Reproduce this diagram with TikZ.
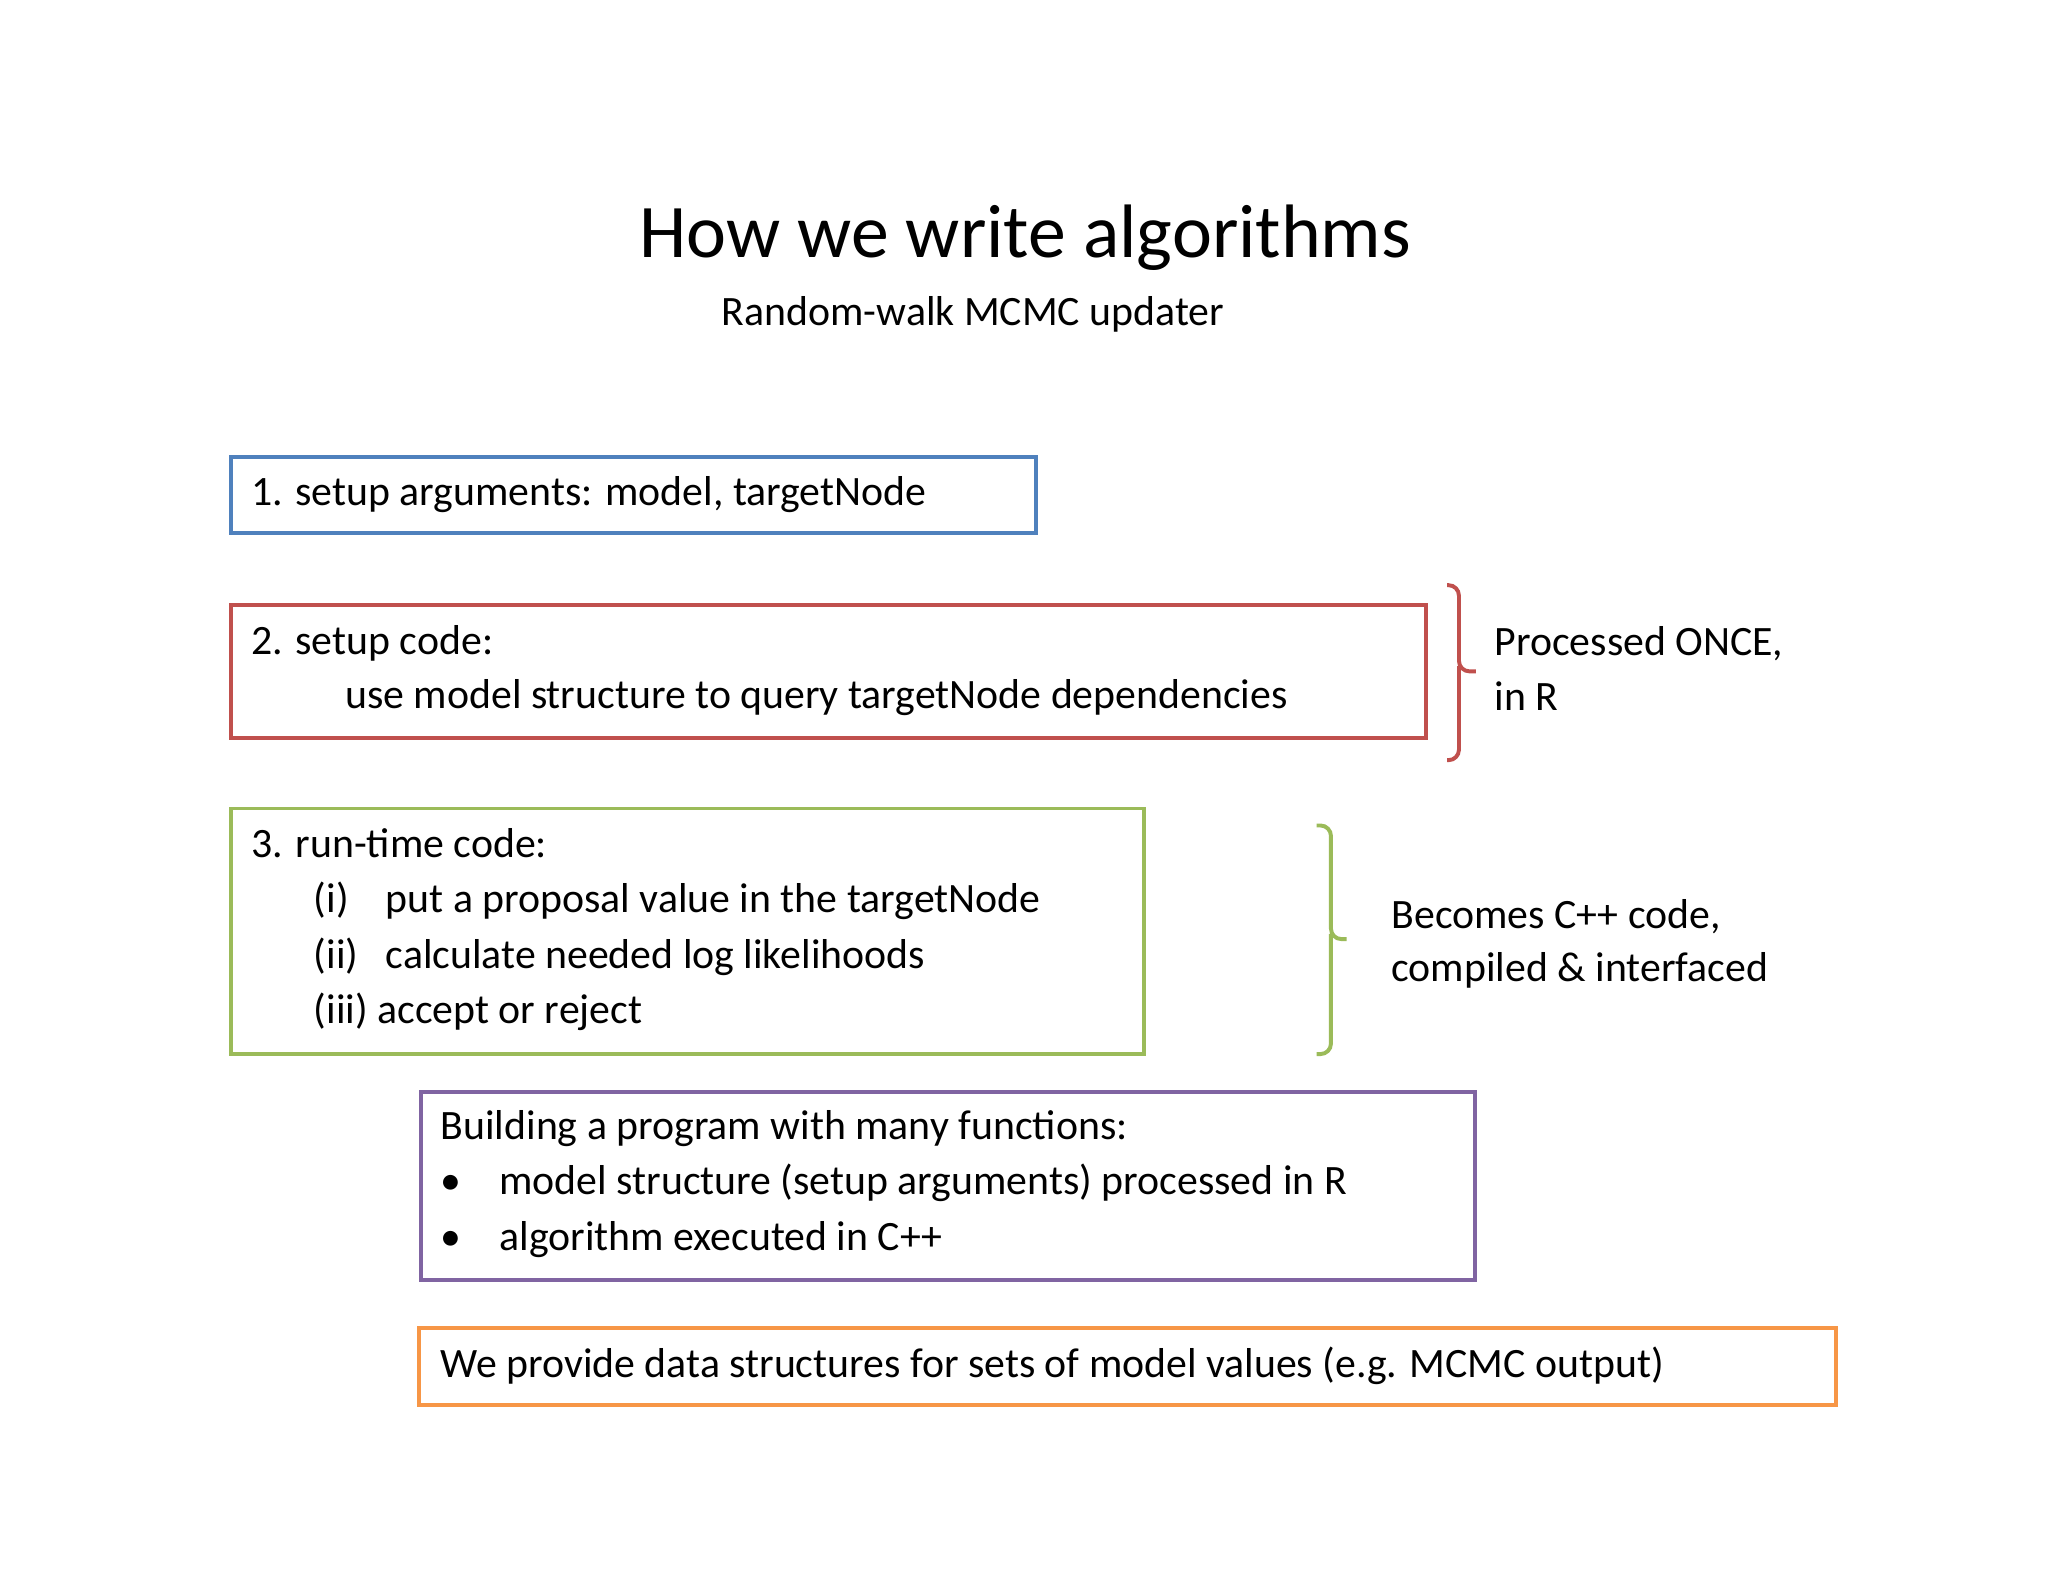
\documentclass[tikz,border=0pt]{standalone}
\usepackage{fontspec}
\setmainfont{Carlito}
\definecolor{cblue}{HTML}{4F81BD}
\definecolor{cred}{HTML}{C0504D}
\definecolor{cgreen}{HTML}{9BBB59}
\definecolor{cpurple}{HTML}{8064A2}
\definecolor{corange}{HTML}{F79646}
\begin{document}
\begin{tikzpicture}[x=0.5pt,y=-0.5pt,
  box/.style={draw=#1,line width=1.5pt},
  txt/.style={anchor=mid west,inner sep=0pt,font=\fontsize{16}{19}\selectfont},
  brace/.style={draw=#1,line width=1.5pt,rounded corners=4pt}]
\useasboundingbox (0,0) rectangle (1568,1211);
\node[font=\fontsize{29}{34}\selectfont,inner sep=0pt] (title) at (785,182) {How we write algorithms};
\node[font=\fontsize{16}{19}\selectfont,inner sep=0pt] (sub) at (745,241) {Random-walk MCMC updater};
% boxes
\draw[box=cblue] (177,350) rectangle (793,408);
\node[txt] (t1) at (192,382) {1. setup arguments: model, targetNode};
\draw[box=cred] (177,463) rectangle (1092,565);
\node[txt] (t2a) at (192,496) {2. setup code:};
\node[txt] (t2b) at (264,538) {use model structure to query targetNode dependencies};
\draw[box=cgreen] (177,619) rectangle (876,807);
\node[txt] (t3a) at (192,652) {3. run-time code:};
\node[txt] (t3b) at (240,694) {(i)};
\node[txt] (t3b2) at (295,694) {put a proposal value in the targetNode};
\node[txt] (t3c) at (240,737) {(ii)};
\node[txt] (t3c2) at (295,737) {calculate needed log likelihoods};
\node[txt] (t3d) at (240,779) {(iii) accept or reject};
\draw[box=cpurple] (322,836) rectangle (1129,980);
\node[txt] (t4a) at (337,868) {Building a program with many functions:};
\node[txt] (t4b) at (337,910) {•};
\node[txt] (t4b2) at (382,910) {model structure (setup arguments) processed in R};
\node[txt] (t4c) at (337,953) {•};
\node[txt] (t4c2) at (382,953) {algorithm executed in C++};
\draw[box=corange] (321,1017) rectangle (1406,1076);
\node[txt] (t5) at (337,1050) {We provide data structures for sets of model values (e.g. MCMC output)};
% braces
\draw[brace=cred] (1108,448) -- (1117,448) -- (1117,514) -- (1130,514);
\draw[brace=cred] (1117,510) -- (1117,582) -- (1108,582);
\node[txt] (r1) at (1144,497) {Processed ONCE,};
\node[txt] (r2) at (1144,539) {in R};
\draw[brace=cgreen] (1008,632) -- (1019,632) -- (1019,719) -- (1031,719);
\draw[brace=cgreen] (1019,715) -- (1019,807) -- (1008,807);
\node[txt] (g1) at (1065,706) {Becomes C++ code,};
\node[txt] (g2) at (1065,747) {compiled \& interfaced};
\end{tikzpicture}
\end{document}
